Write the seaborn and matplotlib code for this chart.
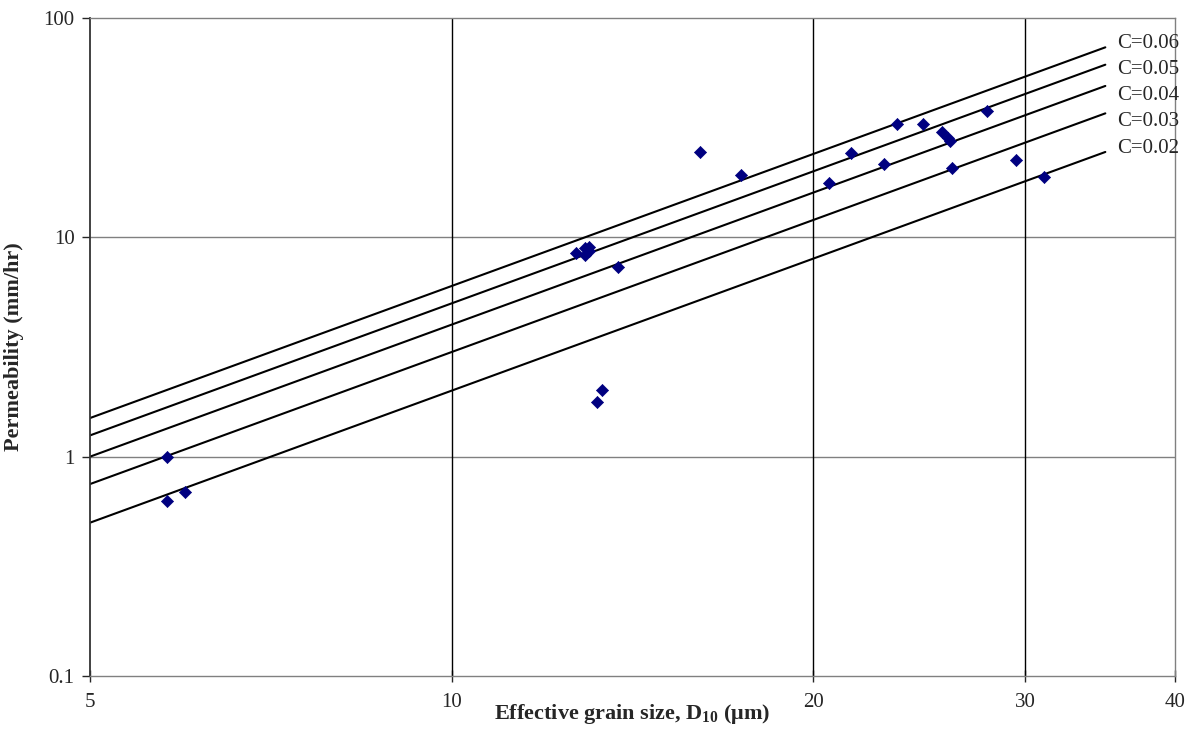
import numpy as np
import pandas as pd
import matplotlib
matplotlib.use('Agg')
import matplotlib.pyplot as plt
import seaborn as sns
from matplotlib.ticker import FixedLocator, FixedFormatter, NullLocator

# measured points: effective grain size D10 (um) vs permeability (mm/hr)
d10 = [5.8, 5.8, 6.0, 12.7, 12.9, 13.0, 12.9, 13.0, 13.75, 13.2, 13.35,
       16.1, 17.4, 20.6, 21.5, 22.9, 23.5, 24.7, 25.6, 25.9, 26.0, 26.1,
       27.9, 29.5, 31.1]
perm = [1.0, 0.63, 0.69, 8.5, 8.9, 9.0, 8.3, 8.7, 7.3, 1.78, 2.02,
        24.6, 19.3, 17.6, 24.3, 21.7, 33.0, 33.0, 30.3, 28.5, 27.6, 20.8,
        37.8, 22.6, 18.9]

# Hazen type lines k = C * D10^2
c_values = [0.06, 0.05, 0.04, 0.03, 0.02]
d_line = [5, 35]

x_ticks = [5, 10, 20, 30, 40]
y_ticks = [0.1, 1, 10, 100]
y_tick_labels = ['0.1', '1', '10', '100']

sns.set_style('white')
plt.rcParams['font.family'] = ['Liberation Serif', 'DejaVu Serif']
plt.rcParams['mathtext.fontset'] = 'custom'
plt.rcParams['mathtext.rm'] = 'Liberation Serif'
plt.rcParams['mathtext.bf'] = 'Liberation Serif:bold'

fig = plt.figure(figsize=(11.99, 7.30), dpi=100)
ax = fig.add_axes([90 / 1199, 54 / 730, 1085 / 1199, 658 / 730])

lines = pd.DataFrame([(c, d, c * d ** 2) for c in c_values for d in d_line],
                     columns=['C', 'D', 'k'])
for i, c in enumerate(c_values):
    sub = lines[lines.C == c]
    sns.lineplot(data=sub, x='D', y='k', color='black', lw=1.5, ax=ax)
    # labels stacked evenly at the right end of the lines
    ax.text(0.9465, 0.962 - 0.04 * i, 'C=%.2f' % c, transform=ax.transAxes,
            fontsize=15, ha='left', va='center')

pts = pd.DataFrame({'D10': d10, 'k': perm})
sns.scatterplot(data=pts, x='D10', y='k', marker='D', s=38, color='#000080',
                edgecolor='#000080', linewidth=0.5, ax=ax, zorder=5)

ax.set_xscale('log')
ax.set_yscale('log')
ax.set_xlim(5, 40)
ax.set_ylim(0.1, 100)

ax.xaxis.set_major_locator(FixedLocator(x_ticks))
ax.xaxis.set_major_formatter(FixedFormatter([str(t) for t in x_ticks]))
ax.xaxis.set_minor_locator(NullLocator())
ax.yaxis.set_major_locator(FixedLocator(y_ticks))
ax.yaxis.set_major_formatter(FixedFormatter(y_tick_labels))
ax.yaxis.set_minor_locator(NullLocator())

# gridlines: grey horizontals, black verticals
for t in y_ticks[1:-1]:
    ax.axhline(t, color='#808080', lw=1.0, zorder=1)
for t in x_ticks[1:-1]:
    ax.axvline(t, color='black', lw=1.0, zorder=1)

ax.tick_params(axis='y', direction='out', length=6, width=1, labelsize=15,
               left=True, pad=5)
ax.tick_params(axis='x', direction='inout', length=8, width=1, labelsize=15,
               bottom=True, pad=8)

for side in ['top', 'right', 'bottom']:
    ax.spines[side].set_color('#808080')
    ax.spines[side].set_linewidth(1.0)
ax.spines['left'].set_color('#333333')
ax.spines['left'].set_linewidth(1.3)

ax.set_xlabel(r'Effective grain size, $\mathbf{D_{10}}$ ($\mathbf{\mu}$m)',
              fontsize=16, fontweight='bold', labelpad=-7)
ax.set_ylabel('Permeability (mm/hr)', fontsize=16, fontweight='bold',
              labelpad=14)

fig.savefig('out.png', dpi=100)
